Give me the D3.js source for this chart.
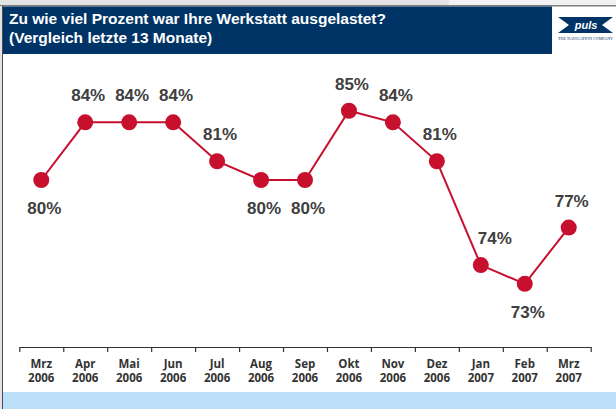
<!DOCTYPE html>
<html>
<head>
<meta charset="utf-8">
<script src="https://cdn.jsdelivr.net/npm/d3@7"></script>
<style>
    html, body { margin: 0; padding: 0; background: #fff; }
    svg { display: block; }
</style>
</head>
<body>
<div id="chart"></div>
<script>
const months = ['Mrz', 'Apr', 'Mai', 'Jun', 'Jul', 'Aug', 'Sep', 'Okt', 'Nov', 'Dez', 'Jan', 'Feb', 'Mrz'];
const years = ['2006', '2006', '2006', '2006', '2006', '2006', '2006', '2006', '2006', '2006', '2007', '2007', '2007'];
const values = [80.0, 84.0, 84.0, 84.0, 81.3, 80.0, 80.0, 84.8, 84.0, 81.3, 74.1, 72.8, 76.7];
const titleLines = ['Zu wie viel Prozent war Ihre Werkstatt ausgelastet?', '(Vergleich letzte 13 Monate)'];

const width = 616,
    height = 409,
    red = '#c70f2e',
    navy = '#003466';

const svg = d3.select('#chart').append('svg')
    .attr('width', width)
    .attr('height', height);

// frame / header

svg.append('rect').attr('x', 0).attr('y', 0).attr('width', width).attr('height', 5).attr('fill', '#e3e3e3');
svg.append('rect').attr('x', 449).attr('y', 0).attr('width', width - 449).attr('height', 5).attr('fill', '#f1f1f1');
svg.append('rect').attr('x', 0).attr('y', 5).attr('width', width).attr('height', 1.5).attr('fill', '#7d7d7d');
svg.append('rect').attr('x', 0).attr('y', 6).attr('width', 2).attr('height', height).attr('fill', '#e3e3e3');
svg.append('rect').attr('x', 2).attr('y', 6).attr('width', 1).attr('height', height).attr('fill', '#4a4a4a');

svg.append('rect').attr('x', 3).attr('y', 6.5).attr('width', 549).attr('height', 47.5).attr('fill', navy);

svg.append('g')
    .selectAll('text')
    .data(titleLines)
    .join('text')
    .attr('x', 9)
    .attr('y', (d, i) => 24 + i * 19)
    .attr('fill', '#fff')
    .style('font-family', '"Liberation Sans", Arial, sans-serif')
    .style('font-weight', 'bold')
    .style('font-size', '15.5px')
    .text(d => d);

// logo
const logo = svg.append('g');
logo.append('path')
    .attr('d', 'M558,17 L613,17 L602,25 L613,33 L558,33 L569,25 Z')
    .attr('fill', navy);
logo.append('text')
    .attr('x', 586).attr('y', 29)
    .attr('text-anchor', 'middle')
    .attr('fill', '#fff')
    .style('font-family', '"Liberation Sans", Arial, sans-serif')
    .style('font-weight', 'bold')
    .style('font-style', 'italic')
    .style('font-size', '11px')
    .text('puls');
logo.append('text')
    .attr('x', 585.5).attr('y', 40)
    .attr('text-anchor', 'middle')
    .attr('fill', navy)
    .attr('textLength', 55)
    .style('font-family', '"Liberation Serif", serif')
    .style('font-size', '4px')
    .text('THE NAVIGATION COMPANY');

// bottom band
svg.append('rect').attr('x', 3).attr('y', 392).attr('width', width - 3).attr('height', height - 392).attr('fill', '#bde0fa');

// scales

const x = d3.scaleBand()
    .domain(d3.range(months.length))
    .range([19.3, 590.7]);

const xEdge = d3.scaleLinear()
    .domain([0, months.length])
    .range([19.3, 590.7]);

const y = d3.scaleLinear()
    .domain([70, 90])
    .range([324.25, 35.75]);

const cx = i => x(i) + x.bandwidth() / 2;

// axis

const axis = svg.append('g')
    .attr('transform', 'translate(0, 347)')
    .call(d3.axisBottom(xEdge)
        .tickValues(d3.range(months.length + 1))
        .tickSize(5)
        .tickSizeOuter(0)
        .tickFormat(''));

axis.select('.domain').attr('stroke', '#333').attr('stroke-width', 1.2);
axis.selectAll('.tick line').attr('stroke', '#333').attr('stroke-width', 1.2);

const labels = svg.append('g')
    .selectAll('text')
    .data(months)
    .join('text')
    .attr('text-anchor', 'middle')
    .attr('fill', '#333')
    .style('font-family', '"Open Sans", sans-serif')
    .style('font-weight', 'bold')
    .style('font-size', '11.5px');

labels.append('tspan')
    .attr('x', (d, i) => cx(i))
    .attr('y', 368)
    .text(d => d);

labels.append('tspan')
    .attr('x', (d, i) => cx(i))
    .attr('y', 382)
    .text((d, i) => years[i]);

// line + dots

const line = d3.line()
    .x((d, i) => cx(i))
    .y(d => y(d));

svg.append('path')
    .datum(values)
    .attr('d', line)
    .attr('fill', 'none')
    .attr('stroke', red)
    .attr('stroke-width', 2);

svg.append('g')
    .selectAll('circle')
    .data(values)
    .join('circle')
    .attr('cx', (d, i) => cx(i))
    .attr('cy', d => y(d))
    .attr('r', 8)
    .attr('fill', red);

// value labels: below local minima, above otherwise

const isBelow = i => {
    const nb = [values[i - 1], values[i + 1]].filter(v => v !== undefined);
    return nb.every(v => values[i] <= v) && nb.some(v => values[i] < v);
};

svg.append('g')
    .selectAll('text')
    .data(values)
    .join('text')
    .attr('x', (d, i) => {
        const steep = !isBelow(i) && i > 0 && values[i - 1] - d > 4;
        return cx(i) + (steep ? 14 : 3);
    })
    .attr('y', (d, i) => y(d) + (isBelow(i) ? 34 : -21))
    .attr('text-anchor', 'middle')
    .attr('fill', '#404040')
    .style('font-family', '"Liberation Sans", Arial, sans-serif')
    .style('font-weight', 'bold')
    .style('font-size', '17px')
    .text(d => Math.round(d) + '%');
</script>
</body>
</html>
